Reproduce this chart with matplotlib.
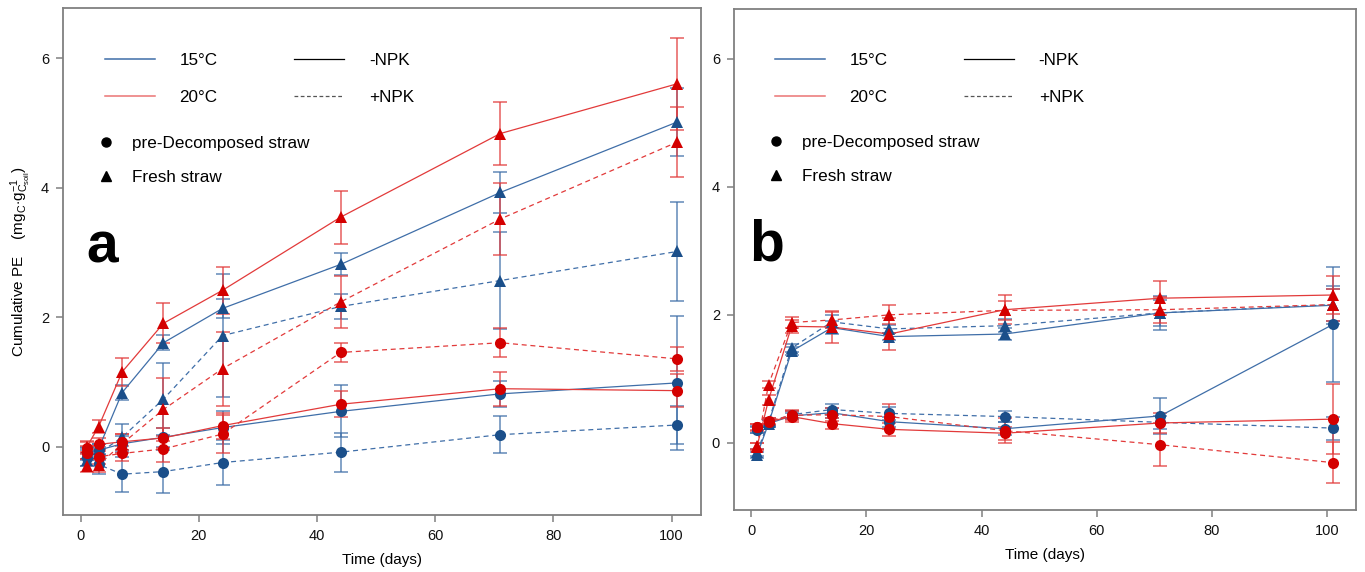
import numpy as np
import matplotlib
matplotlib.use('Agg')
import matplotlib.pyplot as plt
from matplotlib.lines import Line2D

plt.rcParams['font.family'] = ['Liberation Sans', 'DejaVu Sans']
plt.rcParams['mathtext.fontset'] = 'custom'
plt.rcParams['mathtext.rm'] = 'Liberation Sans'
plt.rcParams['mathtext.it'] = 'Liberation Sans:italic'

# sampling days
days = [1, 3, 7, 14, 24, 44, 71, 101]

# ---- panel a ----
a_15_noNPK_fresh = [-0.10, -0.03, 0.84, 1.61, 2.14, 2.82, 3.93, 5.02]
a_15_NPK_fresh   = [-0.20, -0.10, 0.15, 0.74, 1.72, 2.17, 2.57, 3.02]
a_20_noNPK_fresh = [0.00, 0.31, 1.16, 1.91, 2.42, 3.55, 4.84, 5.61]
a_20_NPK_fresh   = [-0.29, -0.28, 0.05, 0.58, 1.21, 2.24, 3.52, 4.71]
a_15_noNPK_pre   = [-0.10, -0.05, 0.05, 0.15, 0.30, 0.55, 0.82, 0.99]
a_15_NPK_pre     = [-0.17, -0.27, -0.42, -0.38, -0.24, -0.08, 0.19, 0.34]
a_20_noNPK_pre   = [-0.01, 0.04, 0.08, 0.14, 0.33, 0.66, 0.90, 0.87]
a_20_NPK_pre     = [-0.09, -0.15, -0.10, -0.03, 0.20, 1.46, 1.61, 1.36]

a_err_15_noNPK_fresh = [0.08, 0.08, 0.12, 0.12, 0.15, 0.17, 0.32, 0.52]
a_err_15_NPK_fresh   = [0.10, 0.10, 0.20, 0.56, 0.95, 0.20, 0.75, 0.76]
a_err_20_noNPK_fresh = [0.08, 0.10, 0.22, 0.31, 0.36, 0.41, 0.48, 0.71]
a_err_20_NPK_fresh   = [0.10, 0.10, 0.15, 0.49, 0.57, 0.40, 0.56, 0.54]
a_err_15_noNPK_pre   = [0.10, 0.10, 0.12, 0.15, 0.25, 0.40, 0.20, 1.03]
a_err_15_NPK_pre     = [0.12, 0.15, 0.27, 0.33, 0.35, 0.30, 0.29, 0.30]
a_err_20_noNPK_pre   = [0.10, 0.10, 0.12, 0.15, 0.20, 0.20, 0.26, 0.25]
a_err_20_NPK_pre     = [0.10, 0.12, 0.12, 0.20, 0.30, 0.14, 0.22, 0.18]

# ---- panel b ----
b_15_noNPK_fresh = [-0.19, 0.30, 1.43, 1.80, 1.66, 1.70, 2.03, 2.15]
b_15_NPK_fresh   = [-0.15, 0.33, 1.48, 1.89, 1.78, 1.83, 2.03, 2.16]
b_20_noNPK_fresh = [-0.06, 0.67, 1.82, 1.81, 1.70, 2.08, 2.26, 2.31]
b_20_NPK_fresh   = [-0.05, 0.91, 1.88, 1.92, 2.00, 2.07, 2.08, 2.16]
b_15_noNPK_pre   = [0.21, 0.30, 0.42, 0.47, 0.33, 0.22, 0.42, 1.85]
b_15_NPK_pre     = [0.20, 0.32, 0.44, 0.52, 0.46, 0.41, 0.32, 0.23]
b_20_noNPK_pre   = [0.25, 0.33, 0.41, 0.30, 0.21, 0.15, 0.31, 0.37]
b_20_NPK_pre     = [0.24, 0.34, 0.43, 0.44, 0.41, 0.19, -0.03, -0.31]

b_err_15_noNPK_fresh = [0.05, 0.05, 0.06, 0.10, 0.06, 0.10, 0.26, 0.30]
b_err_15_NPK_fresh   = [0.05, 0.05, 0.06, 0.10, 0.06, 0.10, 0.20, 0.25]
b_err_20_noNPK_fresh = [0.05, 0.08, 0.10, 0.25, 0.25, 0.23, 0.27, 0.30]
b_err_20_NPK_fresh   = [0.05, 0.05, 0.08, 0.12, 0.15, 0.15, 0.20, 0.25]
b_err_15_noNPK_pre   = [0.05, 0.05, 0.05, 0.08, 0.08, 0.10, 0.28, 0.90]
b_err_15_NPK_pre     = [0.05, 0.05, 0.05, 0.08, 0.10, 0.08, 0.10, 0.18]
b_err_20_noNPK_pre   = [0.05, 0.05, 0.08, 0.08, 0.10, 0.10, 0.15, 0.55]
b_err_20_NPK_pre     = [0.05, 0.05, 0.08, 0.10, 0.20, 0.20, 0.34, 0.32]

BLUE_M, BLUE_L = '#1b4f8a', '#3f6ea8'
RED_M, RED_L = '#d40000', '#e23a3a'


def draw_series(ax, y, err, temp, npk, straw):
    mc = BLUE_M if temp == 15 else RED_M
    lc = BLUE_L if temp == 15 else RED_L
    ls = (0, (4, 3)) if npk else '-'
    mk = 'o' if straw == 'pre' else '^'
    ms = 8 if mk == 'o' else 8.5
    ax.errorbar(days, y, yerr=err, fmt='none', ecolor=lc, elinewidth=1.2,
                capsize=5, capthick=1.2, alpha=0.75, zorder=2)
    ax.plot(days, y, color=lc, lw=0.9, linestyle=ls, zorder=3)
    ax.plot(days, y, linestyle='none', marker=mk, ms=ms, color=mc,
            markeredgewidth=0, zorder=4)


def style_axes(ax, letter, letter_x, ylabel=None):
    ax.set_xlim(-3, 105)
    ax.set_ylim(-1.05, 6.78)
    ax.set_xticks([0, 20, 40, 60, 80, 100])
    ax.set_yticks([0, 2, 4, 6])
    for s in ax.spines.values():
        s.set_color('#808080')
        s.set_linewidth(1.3)
    ax.tick_params(direction='out', length=5, width=1.1, color='#808080',
                   labelsize=10.5, labelcolor='#111111', pad=5)
    ax.set_xlabel('Time (days)', fontsize=11, labelpad=7)
    if ylabel:
        ax.set_ylabel(ylabel, fontsize=11, labelpad=6)
    ax.text(letter_x, 0.497, letter, transform=ax.transAxes, fontsize=41,
            fontweight='bold', ha='left', va='baseline')

    h1 = [Line2D([], [], color=BLUE_L, lw=1.1),
          Line2D([], [], color=RED_L, lw=1.1, alpha=0.7),
          Line2D([], [], color='black', lw=0.9),
          Line2D([], [], color='#555555', lw=0.9, linestyle=(0, (3, 2)))]
    leg1 = ax.legend(h1, ['15°C', '20°C', '-NPK', '+NPK'], ncol=2,
                     loc='upper left', bbox_to_anchor=(0.066, 0.912),
                     frameon=False, fontsize=12.3, handlelength=2.9,
                     handletextpad=1.45, columnspacing=4.5, labelspacing=1.3,
                     borderpad=0, borderaxespad=0)
    ax.add_artist(leg1)
    h2 = [Line2D([], [], color='black', marker='o', ms=6.5, linestyle='none'),
          Line2D([], [], color='black', marker='^', ms=6.5, linestyle='none')]
    ax.legend(h2, ['pre-Decomposed straw', 'Fresh straw'], loc='upper left',
              bbox_to_anchor=(0.054, 0.748), frameon=False, fontsize=12.3,
              handlelength=1.0, handletextpad=1.0, labelspacing=1.12,
              borderpad=0, borderaxespad=0)


fig = plt.figure(figsize=(13.65, 5.72), dpi=100)
ax_a = fig.add_axes([0.0462, 0.0997, 0.4674, 0.8864])
ax_b = fig.add_axes([0.5377, 0.1084, 0.4557, 0.8759])

panel_a = [
    (a_15_NPK_pre, a_err_15_NPK_pre, 15, True, 'pre'),
    (a_15_noNPK_pre, a_err_15_noNPK_pre, 15, False, 'pre'),
    (a_15_NPK_fresh, a_err_15_NPK_fresh, 15, True, 'fresh'),
    (a_15_noNPK_fresh, a_err_15_noNPK_fresh, 15, False, 'fresh'),
    (a_20_NPK_pre, a_err_20_NPK_pre, 20, True, 'pre'),
    (a_20_noNPK_pre, a_err_20_noNPK_pre, 20, False, 'pre'),
    (a_20_NPK_fresh, a_err_20_NPK_fresh, 20, True, 'fresh'),
    (a_20_noNPK_fresh, a_err_20_noNPK_fresh, 20, False, 'fresh'),
]
panel_b = [
    (b_15_NPK_pre, b_err_15_NPK_pre, 15, True, 'pre'),
    (b_15_noNPK_pre, b_err_15_noNPK_pre, 15, False, 'pre'),
    (b_15_NPK_fresh, b_err_15_NPK_fresh, 15, True, 'fresh'),
    (b_15_noNPK_fresh, b_err_15_noNPK_fresh, 15, False, 'fresh'),
    (b_20_NPK_pre, b_err_20_NPK_pre, 20, True, 'pre'),
    (b_20_noNPK_pre, b_err_20_noNPK_pre, 20, False, 'pre'),
    (b_20_NPK_fresh, b_err_20_NPK_fresh, 20, True, 'fresh'),
    (b_20_noNPK_fresh, b_err_20_noNPK_fresh, 20, False, 'fresh'),
]

for y, e, t, n, s in panel_a:
    draw_series(ax_a, y, e, t, n, s)
for y, e, t, n, s in panel_b:
    draw_series(ax_b, y, e, t, n, s)

ylab = r'Cumulative PE    (mg$_\mathrm{C}$$\cdot$g$_{\mathrm{C}_\mathrm{soil}}^{-1}$)'
style_axes(ax_a, 'a', 0.037, ylab)
style_axes(ax_b, 'b', 0.025)

fig.savefig('out.png', dpi=100, facecolor='white')
